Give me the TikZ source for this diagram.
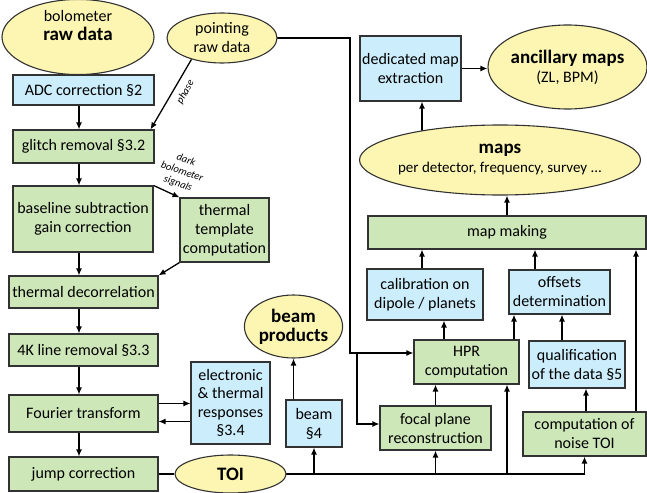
\documentclass[tikz,border=0pt]{standalone}
\usepackage{fontspec}
\setmainfont{Carlito}
\usetikzlibrary{shapes.geometric,arrows.meta,backgrounds}
\definecolor{yelfill}{RGB}{252,246,178}
\definecolor{grnfill}{RGB}{206,231,184}
\definecolor{blufill}{RGB}{204,237,251}
\definecolor{edgecol}{RGB}{50,50,50}
\newcommand{\ctrline}[1]{\makebox[0pt]{#1}}
\newcommand{\bigbold}{\fontsize{19}{20}\selectfont\bfseries}
\begin{document}
\begin{tikzpicture}[x=1pt,y=-1pt,
  basestyle/.style={draw=edgecol, line width=1.1pt, align=center, font=\fontsize{16}{19}\selectfont, inner sep=1.5pt},
  ell/.style={basestyle, ellipse, fill=yelfill, inner sep=0pt},
  gbox/.style={basestyle, rectangle, fill=grnfill},
  bbox/.style={basestyle, rectangle, fill=blufill},
  arr/.style={line width=1.3pt, draw=black, -{Latex[length=7pt,width=6pt]}},
  ln/.style={line width=1.3pt, draw=black},
  lbl/.style={font=\fontsize{10.5}{12.5}\selectfont\itshape, align=center, inner sep=0pt}
]
\useasboundingbox (0,0) rectangle (647,492);

% ---- nodes ----
\node[ell, minimum width=152pt, minimum height=66pt] (bolo) at (78,37) {bolometer\\\bigbold raw data\\[4pt]};
\node[ell, minimum width=110pt, minimum height=50pt] (point) at (222,38) {pointing\\raw data};
\node[bbox, minimum width=141pt, minimum height=30pt] (adc) at (83.5,90) {ADC correction §2};
\node[gbox, minimum width=141pt, minimum height=33pt] (glitch) at (83.5,146.5) {glitch removal §3.2};
\node[gbox, minimum width=140pt, minimum height=66pt] (basel) at (83,219) {baseline subtraction\\gain correction};
\node[gbox, minimum width=89pt, minimum height=64pt] (ttemp) at (224.5,230) {thermal\\template\\computation};
\node[gbox, minimum width=149pt, minimum height=32pt] (decor) at (83.5,292) {thermal decorrelation};
\node[gbox, minimum width=149pt, minimum height=32pt] (fourk) at (83.5,350) {4K line removal §3.3};
\node[gbox, minimum width=149pt, minimum height=37pt] (fourier) at (83.5,413.5) {Fourier transform};
\node[gbox, minimum width=149pt, minimum height=34pt] (jump) at (83.5,474) {jump correction};
\node[bbox, minimum width=79pt, minimum height=82pt, font=\fontsize{16}{18.5}\selectfont] (elec) at (230.5,403) {electronic\\\& thermal\\responses\\§3.4};
\node[ell, minimum width=111pt, minimum height=38pt] (toi) at (230.5,474) {\bigbold TOI};
\node[bbox, minimum width=56pt, minimum height=47pt] (beam) at (314,423.5) {beam\\§4};
\node[ell, minimum width=95pt, minimum height=63pt] (bprod) at (293.5,326.5) {\bigbold beam\\\bigbold products};
\node[gbox, minimum width=111pt, minimum height=44pt] (focal) at (435.5,428) {focal plane\\reconstruction};
\node[gbox, minimum width=105pt, minimum height=44pt] (hpr) at (466.5,362) {HPR\\computation};
\node[bbox, minimum width=116pt, minimum height=51pt] (calib) at (425,294.5) {calibration on\\dipole / planets};
\node[bbox, minimum width=101pt, minimum height=44pt] (offs) at (559.5,292) {offsets\\determination};
\node[bbox, minimum width=96pt, minimum height=47pt] (qual) at (577,364.5) {qualification\\of the data §5};
\node[gbox, minimum width=123pt, minimum height=44pt] (noise) at (584.5,434) {computation of\\noise TOI};
\node[gbox, minimum width=278pt, minimum height=33pt] (mapm) at (507,232.5) {map making};
\node[ell, minimum width=281pt, minimum height=70pt] (maps) at (500,160) {\ctrline{\bigbold maps}\\\ctrline{\fontsize{15}{18}\selectfont per detector, frequency, survey ...}};
\node[bbox, minimum width=101pt, minimum height=65pt] (dedic) at (410.5,68.5) {dedicated map\\extraction};
\node[ell, minimum width=159pt, minimum height=84pt] (ancil) at (567.5,67) {\ctrline{\bigbold ancillary maps}\\\ctrline{(ZL, BPM)}};

\node[lbl, rotate=60] (phaselbl) at (185.5,92) {phase};
\node[lbl, rotate=-19] (darklbl) at (182,172) {dark\\bolometer\\signals};

% ---- connectors ----
\begin{scope}[on background layer]
\fill[white] (0,0) rectangle (647,492);
\coordinate (cx) at (79,0);
\draw[arr] (cx |- bolo.center) -- (cx |- adc.north);
\draw[arr] (cx |- adc.south) -- (cx |- glitch.north);
\draw[arr] (cx |- glitch.south) -- (cx |- basel.north);
\draw[arr] (cx |- basel.south) -- (cx |- decor.north);
\draw[arr] (cx |- decor.south) -- (cx |- fourk.north);
\draw[arr] (cx |- fourk.south) -- (cx |- fourier.north);
\draw[arr] (cx |- fourier.south) -- (cx |- jump.north);
\draw[arr] (point.215) -- ([xshift=-4pt]glitch.north east);
\draw[arr] (basel.north east) -- (ttemp.north west);
\draw[arr] (ttemp.south west) -- (decor.north east);
\coordinate (fe1) at ([yshift=10pt]fourier.east);
\coordinate (fe2) at ([yshift=-8pt]fourier.east);
\draw[arr] (fe1) -- (fe1 -| elec.west);
\draw[arr] (fe2 -| elec.west) -- (fe2);
\draw[ln] (jump.east) -- (toi.west);
\draw[arr] (toi.center) -| (noise.south);
\draw[arr] (beam.south |- toi.center) -- (beam.south);
\draw[arr] (focal.south |- toi.center) -- (focal.south);
\coordinate (hx) at (507,0);
\draw[arr] (hx |- toi.center) -- (hx |- hpr.south);
\draw[arr] (bprod.south |- beam.north) -- (bprod.south);
\draw[arr] (focal.north) -- (focal.north |- hpr.south);
\coordinate (c1) at (444,0);
\coordinate (c2) at (514,0);
\coordinate (c3) at (422,0);
\coordinate (c4) at (535,0);
\coordinate (c5) at (562,0);
\coordinate (c6) at (586,0);
\coordinate (c7) at (636,0);
\draw[arr] (c1 |- hpr.north) -- (c1 |- calib.south);
\draw[arr] (c2 |- hpr.north) -- (c2 |- offs.south);
\draw[arr] (c3 |- calib.north) -- (c3 |- mapm.south);
\draw[arr] (c4 |- offs.north) -- (c4 |- mapm.south);
\draw[arr] (c5 |- qual.north) -- (c5 |- offs.south);
\draw[arr] (c6 |- noise.north) -- (c6 |- qual.south);
\draw[arr] (c7 |- noise.north) -- (c7 |- mapm.south);
\draw[arr] (mapm.north) -- (mapm.north |- maps.south);
\draw[arr] (c3 |- maps.center) -- (c3 |- dedic.south);
\draw[arr] (dedic.east) -- (dedic.east -| ancil.west);
\coordinate (pc) at (350,353);
\coordinate (fc) at (357,353);
\draw[arr] (point.center) -| (pc) -- (pc -| hpr.west);
\draw[arr] (fc) |- ([yshift=4pt]focal.west);
\end{scope}
\end{tikzpicture}
\end{document}
